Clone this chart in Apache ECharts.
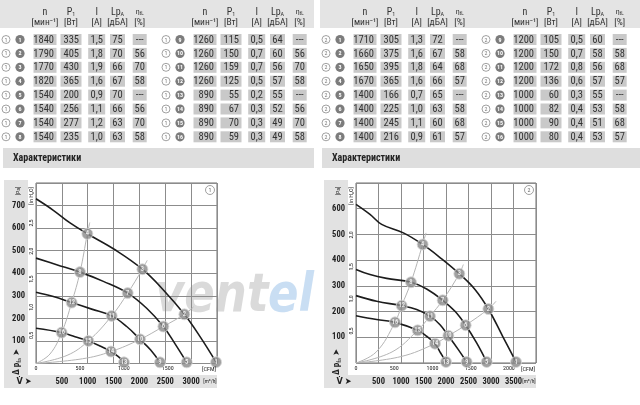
<!DOCTYPE html>
<html>
<head>
<meta charset="utf-8">
<script src="https://cdn.jsdelivr.net/npm/echarts@6/dist/echarts.min.js"></script>
<style>
html,body{margin:0;padding:0;background:#fff}
#main{width:640px;height:405px}
</style>
</head>
<body>
<div id="main"></div>
<script>
// table values, fan 1 (points 1..16)
const tableFan1 = [
  ['1840','335','1,5','75','---'],
  ['1790','405','1,8','70','56'],
  ['1770','430','1,9','66','70'],
  ['1820','365','1,6','67','58'],
  ['1540','200','0,9','70','---'],
  ['1540','256','1,1','66','56'],
  ['1540','277','1,2','63','70'],
  ['1540','235','1,0','63','58'],
  ['1260','115','0,5','64','---'],
  ['1260','150','0,7','60','56'],
  ['1260','159','0,7','56','70'],
  ['1260','125','0,5','57','58'],
  ['890','55','0,2','55','---'],
  ['890','67','0,3','52','56'],
  ['890','70','0,3','49','70'],
  ['890','59','0,3','49','58']
];
// table values, fan 2
const tableFan2 = [
  ['1710','305','1,3','72','---'],
  ['1660','375','1,6','67','58'],
  ['1650','395','1,8','64','68'],
  ['1670','365','1,6','66','57'],
  ['1400','166','0,7','65','---'],
  ['1400','225','1,0','63','58'],
  ['1400','245','1,1','60','68'],
  ['1400','216','0,9','61','57'],
  ['1200','105','0,5','60','---'],
  ['1200','150','0,7','58','58'],
  ['1200','172','0,8','56','68'],
  ['1200','136','0,6','57','57'],
  ['1000','60','0,3','55','---'],
  ['1000','82','0,4','53','58'],
  ['1000','90','0,4','51','68'],
  ['1000','80','0,4','53','57']
];

// chart 1 fan curves [m3/h, Pa]
const fan1n1840 = [[0,730],[335,679],[658,623],[993,575],[1528,504],[2057,418],[2463,326],[2869,218],[3172,119],[3482,6]];
const fan1n1540 = [[0,467],[400,438],[851,405],[1302,364],[1773,312],[2140,245],[2463,164],[2689,87],[2914,5]];
const fan1n1260 = [[0,316],[335,297],[690,270],[1077,241],[1464,211],[1754,164],[2012,107],[2218,60],[2398,5]];
const fan1n890 = [[0,156],[496,137],[754,119],[1012,100],[1238,78],[1451,53],[1593,30],[1702,5]];
const sys1 = [
  [[0,0],[270,42],[496,137],[690,270],[851,405],[993,575],[1040,625]],
  [[0,0],[600,36],[1012,100],[1464,211],[1773,312],[2057,418],[2150,457]],
  [[0,0],[900,21],[1451,53],[2012,107],[2463,164],[2869,218],[3043,250]]
];
const points1 = [
  [3482,6,1],[2869,218,2],[2057,418,3],[993,575,4],
  [2914,5,5],[2463,164,6],[1773,312,7],[851,405,8],
  [2398,5,9],[2012,107,10],[1464,211,11],[690,270,12],
  [1702,5,13],[1451,53,14],[1012,100,15],[496,137,16]
];

// chart 2 fan curves
const fan2n1710 = [[0,617],[311,578],[570,539],[1052,506],[1481,461],[1904,405],[2296,347],[2644,286],[2941,210],[3259,104],[3556,4]];
const fan2n1400 = [[0,364],[311,344],[681,329],[1222,314],[1570,288],[1926,244],[2200,201],[2437,147],[2681,78],[2904,4]];
const fan2n1200 = [[0,262],[459,240],[1015,223],[1348,208],[1644,182],[1867,149],[2052,106],[2274,52],[2459,4]];
const fan2n1000 = [[0,184],[459,169],[867,158],[1370,127],[1570,104],[1755,75],[1881,39],[2000,4]];
const sys2 = [
  [[0,0],[450,43],[867,158],[1015,223],[1222,314],[1481,461],[1556,506]],
  [[0,0],[800,43],[1370,127],[1644,182],[1926,244],[2296,347],[2385,383]],
  [[0,0],[1000,25],[1755,75],[2052,106],[2437,147],[2941,210],[3111,240]]
];
const points2 = [
  [3556,4,1],[2941,210,2],[2296,347,3],[1481,461,4],
  [2904,4,5],[2437,147,6],[1926,244,7],[1222,314,8],
  [2459,4,9],[2052,106,10],[1644,182,11],[1015,223,12],
  [2000,4,13],[1755,75,14],[1370,127,15],[867,158,16]
];

const FONT = "'Roboto Condensed','DejaVu Sans Condensed',sans-serif";
const PA_PER_INH2O = 249.09;
const M3H_PER_CFM = 1.699;

let chart = echarts.init(document.getElementById('main'));

function txt(x, y, text, extra) {
  return {
    type: 'text', x: x, y: y, z: 10,
    style: Object.assign({text: text, fill: '#333', font: '10px ' + FONT, textAlign: 'center', textVerticalAlign: 'middle'}, extra || {})
  };
}

// ---- tables ----
let g = [];
const colX = [45, 71, 96.7, 117.5, 139.7];
const colW = [23, 21, 17, 15, 14];
const groups = [
  {dx: 0, fan: 1, rows: tableFan1.slice(0, 8), start: 1},
  {dx: 160, fan: 1, rows: tableFan1.slice(8), start: 9},
  {dx: 320, fan: 2, rows: tableFan2.slice(0, 8), start: 1},
  {dx: 480, fan: 2, rows: tableFan2.slice(8), start: 9}
];
g.push({type: 'rect', shape: {x: 0, y: 0, width: 314, height: 28}, style: {fill: '#e4e4e4'}});
g.push({type: 'rect', shape: {x: 320, y: 0, width: 320, height: 28}, style: {fill: '#e4e4e4'}});
const hdrFont = '10px ' + FONT;
const unitFont = '9.5px ' + FONT;
groups.forEach(function (gr) {
  let d = gr.dx;
  g.push(txt(d + colX[0], 12, 'n', {font: hdrFont}));
  g.push(txt(d + colX[0], 23, '[мин⁻¹]', {font: unitFont}));
  g.push(txt(d + colX[1], 12, '{a|P}{s|1}', {rich: {a: {font: hdrFont, fill: '#333'}, s: {font: '6px ' + FONT, fill: '#333', padding: [4, 0, 0, 0]}}}));
  g.push(txt(d + colX[1], 23, '[Вт]', {font: unitFont}));
  g.push(txt(d + colX[2], 12, 'I', {font: hdrFont}));
  g.push(txt(d + colX[2], 23, '[A]', {font: unitFont}));
  g.push(txt(d + colX[3], 12, '{a|Lp}{s|A}', {rich: {a: {font: '10px ' + FONT, fill: '#333'}, s: {font: '6px ' + FONT, fill: '#333', padding: [4, 0, 0, 0]}}}));
  g.push(txt(d + colX[3], 23, '[дБА]', {font: unitFont}));
  g.push(txt(d + colX[4], 12, '{a|η}{s|tL}', {rich: {a: {font: '8px ' + FONT, fill: '#333'}, s: {font: '5px ' + FONT, fill: '#333', padding: [4, 0, 0, 0]}}}));
  g.push(txt(d + colX[4], 23, '[%]', {font: unitFont}));
  gr.rows.forEach(function (row, i) {
    let y = 39.5 + i * 13.9;
    g.push({type: 'circle', shape: {cx: d + 6, cy: y, r: 4}, style: {fill: '#fff', stroke: '#8a8a8a', lineWidth: 0.8}});
    g.push(txt(d + 6, y + 0.5, String(gr.fan), {font: '6px ' + FONT, fill: '#777'}));
    g.push({type: 'circle', shape: {cx: d + 20, cy: y, r: 4.6}, style: {fill: '#7c7c7c'}});
    g.push(txt(d + 20, y + 0.5, String(gr.start + i), {font: 'bold 6px ' + FONT, fill: '#fff'}));
    row.forEach(function (v, c) {
      g.push({type: 'rect', shape: {x: d + colX[c] - colW[c] / 2, y: y - 5.5, width: colW[c], height: 11}, style: {fill: '#c9c9c9'}});
      if (c < 2) {
        g.push(txt(d + colX[c] + colW[c] / 2 - 2.5, y + 0.5, v, {textAlign: 'right', font: '10.5px ' + FONT}));
      } else {
        g.push(txt(d + colX[c], y + 0.5, v, {font: '10.5px ' + FONT}));
      }
    });
  });
});

// ---- section bands ----
g.push({type: 'rect', shape: {x: 3, y: 148, width: 311, height: 20}, style: {fill: '#dedede'}});
g.push({type: 'rect', shape: {x: 322, y: 148, width: 318, height: 20}, style: {fill: '#dedede'}});
g.push(txt(13, 158, 'Характеристики', {textAlign: 'left', font: 'bold 10px ' + FONT, fill: '#222'}));
g.push(txt(332, 158, 'Характеристики', {textAlign: 'left', font: 'bold 10px ' + FONT, fill: '#222'}));

// ---- chart frames ----
function frame(ox, plotR, fan) {
  g.push({type: 'rect', z: -5, shape: {x: ox + 4, y: 180, width: 24, height: 208}, style: {fill: '#e2e2e2'}});
  g.push({type: 'rect', z: -5, shape: {x: ox + 4, y: 375, width: plotR - ox - 4, height: 13}, style: {fill: '#e2e2e2'}});
  g.push(txt(ox + 18, 191, '[Pa]', {font: '6px ' + FONT, fill: '#222'}));
  g[g.length - 1].rotation = Math.PI / 2;
  g.push(txt(ox + 31, 196, '[in H₂O]', {font: '6px ' + FONT, fill: '#222'}));
  g[g.length - 1].rotation = Math.PI / 2;
  g.push(txt(ox + 17, 362, '{a|Δ p}{s|fa} {a|➤}', {rich: {a: {font: 'bold 9px ' + FONT, fill: '#222'}, s: {font: '6px ' + FONT, fill: '#222', padding: [5, 0, 0, 0]}}}));
  g[g.length - 1].rotation = Math.PI / 2;
  g.push(txt(ox + 24, 382, 'V̇ ➤', {font: 'bold 9px ' + FONT, fill: '#222'}));
  g.push(txt(plotR - 7, 382, '[m³/h]', {font: '5.5px ' + FONT, fill: '#222'}));
  g.push(txt(plotR - 8, 369, '[CFM]', {font: '6px ' + FONT, fill: '#222'}));
  g.push({type: 'circle', z: 10, shape: {cx: plotR - 7, cy: 190, r: 4.5}, style: {fill: '#fff', stroke: '#888', lineWidth: 0.8}});
  g.push(txt(plotR - 7, 190.5, String(fan), {font: '6px ' + FONT, fill: '#666'}));
}
frame(0, 217, 1);
frame(320, 536, 2);

// ---- watermark ----
g.push({type: 'text', x: 155, y: 297, scaleY: 1.2, z: 1, style: {text: 'vent', fill: 'rgba(140,140,140,0.32)', font: 'italic bold 45px DejaVu Sans', textAlign: 'left', textVerticalAlign: 'middle'}});
g.push({type: 'text', x: 268, y: 297, scaleY: 1.2, z: 1, style: {text: 'el', fill: 'rgba(100,160,220,0.35)', font: 'italic bold 45px DejaVu Sans', textAlign: 'left', textVerticalAlign: 'middle'}});

// ---- axes ----
const splitStyle = {lineStyle: {color: '#8c8c8c', width: 1}};
function mainX(gi, max) {
  return {gridIndex: gi, type: 'value', min: 0, max: max, interval: 500, axisLine: {show: false}, axisTick: {show: false},
    splitLine: splitStyle,
    axisLabel: {margin: 14, fontSize: 8.5, fontWeight: 'bold', color: '#222', fontFamily: FONT,
      formatter: function (v) { return (v > 0 && v < max) ? String(v) : ''; }}};
}
function cfmX(gi, max, last) {
  return {gridIndex: gi, type: 'value', position: 'bottom', min: 0, max: max / M3H_PER_CFM, interval: 500,
    axisLine: {show: false}, axisTick: {show: false}, splitLine: {show: false},
    axisLabel: {margin: 2, fontSize: 6, color: '#222', fontFamily: FONT,
      formatter: function (v) { return v <= last ? String(v) : ''; }}};
}
function mainY(gi, max) {
  return {gridIndex: gi, type: 'value', min: 0, max: max, interval: 100, axisLine: {show: false}, axisTick: {show: false},
    splitLine: splitStyle,
    axisLabel: {margin: 11, fontSize: 8.5, fontWeight: 'bold', color: '#222', fontFamily: FONT,
      formatter: function (v) { return (v > 0 && v < max) ? String(v) : ''; }}};
}
function inY(gi, max, last) {
  return {gridIndex: gi, type: 'value', position: 'left', min: 0, max: max / PA_PER_INH2O, interval: 0.5,
    axisLine: {show: false}, axisTick: {show: false}, splitLine: {show: false},
    axisLabel: {margin: 2, rotate: 90, fontSize: 6, color: '#222', fontFamily: FONT,
      formatter: function (v) { return (v > 0 && v <= last) ? v.toFixed(1).replace('.', ',') : ''; }}};
}

// ---- series ----
let series = [];
function addChart(xi, yi, curves, systems, pts) {
  systems.forEach(function (s) {
    series.push({type: 'line', xAxisIndex: xi, yAxisIndex: yi, data: s, smooth: 0.4, symbol: 'none',
      lineStyle: {color: '#b4b4b4', width: 1}, z: 3});
  });
  curves.forEach(function (c) {
    series.push({type: 'line', xAxisIndex: xi, yAxisIndex: yi, data: c, smooth: 0.4, symbol: 'none',
      lineStyle: {color: '#1c1c1c', width: 1.6}, z: 4});
  });
  series.push({type: 'scatter', xAxisIndex: xi, yAxisIndex: yi, data: pts, symbolSize: 11, clip: false, z: 6,
    itemStyle: {color: '#8a8a8a', borderColor: '#d8d8d8', borderWidth: 1},
    label: {show: true, position: 'inside', color: '#fff', fontSize: 6.5, fontWeight: 'bold', fontFamily: FONT,
      formatter: function (p) { return p.data[2]; }}});
}
addChart(0, 0, [fan1n1840, fan1n1540, fan1n1260, fan1n890], sys1, points1);
addChart(2, 2, [fan2n1710, fan2n1400, fan2n1200, fan2n1000], sys2, points2);

chart.setOption({
  animation: false,
  backgroundColor: '#fff',
  grid: [
    {left: 36, top: 183, width: 181, height: 180.5, show: true, borderColor: '#6e6e6e', borderWidth: 1, backgroundColor: '#fff'},
    {left: 356, top: 183, width: 180, height: 180, show: true, borderColor: '#6e6e6e', borderWidth: 1, backgroundColor: '#fff'}
  ],
  xAxis: [mainX(0, 3500), cfmX(0, 3500, 1500), mainX(1, 4000), cfmX(1, 4000, 2000)],
  yAxis: [mainY(0, 800), inY(0, 800, 2.5), mainY(1, 700), inY(1, 700, 2.0)],
  graphic: g,
  series: series
});
</script>
</body>
</html>
